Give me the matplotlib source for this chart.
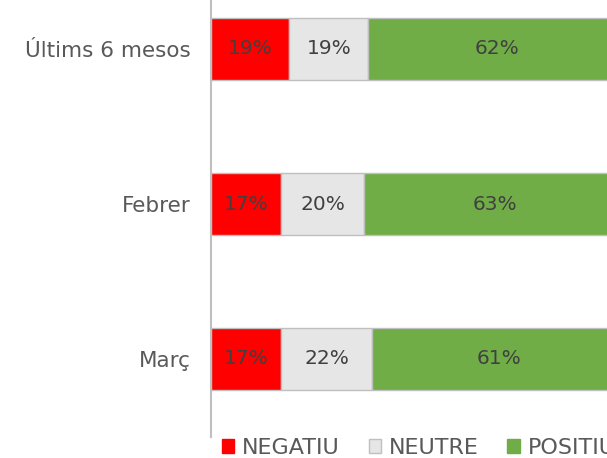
import matplotlib
matplotlib.use("Agg")
import matplotlib.pyplot as plt
from matplotlib.patches import Patch

categories = ["Últims 6 mesos", "Febrer", "Març"]
negatiu = [19, 17, 17]
neutre = [19, 20, 22]
positiu = [62, 63, 61]
series_names = ["NEGATIU", "NEUTRE", "POSITIU"]
colors = ["#FF0000", "#E6E6E6", "#70AD47"]

plt.rcParams['font.family'] = ['DejaVu Sans']

fig = plt.figure(figsize=(6.07, 4.58), dpi=100)
W, H = 607, 458
ax = fig.add_axes([210.5 / W, 1 - 436.5 / H, 415 / W, 465 / H])

y = list(range(len(categories)))
left = [0] * len(categories)
for vals, name, col in zip([negatiu, neutre, positiu], series_names, colors):
    ax.barh(y, vals, left=left, height=0.4, color=col, edgecolor="#BFBFBF",
            linewidth=1, label=name)
    for yi, l, v in zip(y, left, vals):
        ax.text(l + v / 2, yi, f"{v}%", ha="center", va="center",
                fontsize=14.5, color="#404040")
    left = [a + b for a, b in zip(left, vals)]

ax.set_xlim(0, 100)
ax.set_ylim(2.5, -0.5)
ax.set_yticks(y)
ax.set_yticklabels(categories, fontsize=15.5, color="#595959")
ax.tick_params(axis="y", length=0, pad=14)
ax.set_xticks([])
for s in ["top", "right", "bottom"]:
    ax.spines[s].set_visible(False)
ax.spines["left"].set_color("#BFBFBF")
ax.spines["left"].set_linewidth(1.5)

handles = [Patch(facecolor=c, edgecolor="#BFBFBF" if c == "#E6E6E6" else c, label=n)
           for c, n in zip(colors, series_names)]
leg = fig.legend(handles=handles, loc="center left", bbox_to_anchor=(222 / W, 1 - 448 / H),
                 ncol=3, frameon=False, fontsize=16, handlelength=0.55, handleheight=0.55,
                 handletextpad=0.35, columnspacing=1.3, borderaxespad=0, borderpad=0)
for t in leg.get_texts():
    t.set_color("#595959")

fig.savefig("out.png", dpi=100)
